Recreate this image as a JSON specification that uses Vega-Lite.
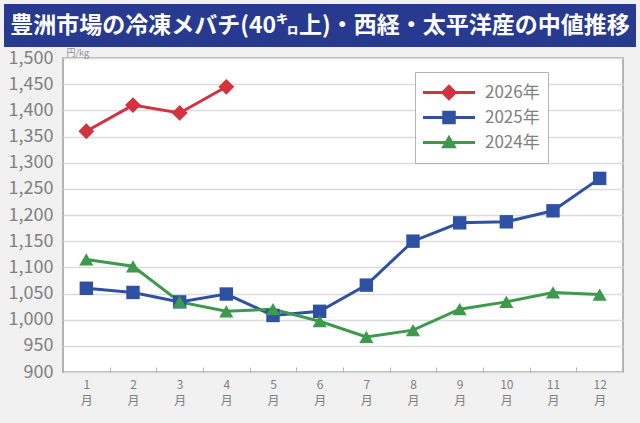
{
  "$schema": "https://vega.github.io/schema/vega-lite/v6.json",
  "background": "#f1f1f1",
  "padding": {"left": 4, "top": 4, "right": 4, "bottom": 17},
  "config": {"font": "Noto Sans CJK JP"},
  "bounds": "flush",
  "spacing": 11,
  "vconcat": [
    {
      "width": 632,
      "height": 43,
      "view": {"fill": "#283a8f", "stroke": null},
      "data": {"values": [{"title": "豊洲市場の冷凍メバチ(40㌔上)・西経・太平洋産の中値推移"}]},
      "mark": {"type": "text", "color": "white", "fontSize": 23, "fontWeight": "bold", "font": "Noto Sans CJK JP"},
      "encoding": {"text": {"field": "title", "type": "nominal"}}
    },
    {
      "bounds": "flush",
      "spacing": 0,
      "hconcat": [
        {
          "width": 59,
          "height": 314,
          "view": {"stroke": null},
          "data": {"values": []},
          "mark": "text"
        },
        {
          "width": 560,
          "height": 314,
          "view": {"fill": "white", "stroke": "#b3b3b3", "strokeWidth": 2},
          "data": {
            "values": [
              {"month": 1, "year": "2026年", "value": 1360},
              {"month": 2, "year": "2026年", "value": 1410},
              {"month": 3, "year": "2026年", "value": 1395},
              {"month": 4, "year": "2026年", "value": 1445},
              {"month": 1, "year": "2025年", "value": 1060},
              {"month": 2, "year": "2025年", "value": 1052},
              {"month": 3, "year": "2025年", "value": 1034},
              {"month": 4, "year": "2025年", "value": 1049},
              {"month": 5, "year": "2025年", "value": 1008},
              {"month": 6, "year": "2025年", "value": 1016},
              {"month": 7, "year": "2025年", "value": 1066},
              {"month": 8, "year": "2025年", "value": 1150},
              {"month": 9, "year": "2025年", "value": 1185},
              {"month": 10, "year": "2025年", "value": 1187},
              {"month": 11, "year": "2025年", "value": 1208},
              {"month": 12, "year": "2025年", "value": 1270},
              {"month": 1, "year": "2024年", "value": 1115},
              {"month": 2, "year": "2024年", "value": 1102},
              {"month": 3, "year": "2024年", "value": 1034},
              {"month": 4, "year": "2024年", "value": 1016},
              {"month": 5, "year": "2024年", "value": 1020},
              {"month": 6, "year": "2024年", "value": 997},
              {"month": 7, "year": "2024年", "value": 967},
              {"month": 8, "year": "2024年", "value": 980},
              {"month": 9, "year": "2024年", "value": 1020},
              {"month": 10, "year": "2024年", "value": 1034},
              {"month": 11, "year": "2024年", "value": 1052},
              {"month": 12, "year": "2024年", "value": 1048}
            ]
          },
          "encoding": {
            "x": {
              "field": "month",
              "type": "ordinal",
              "bandPosition": 0.5,
              "scale": {"type": "band", "paddingInner": 0, "paddingOuter": 0},
              "axis": {
                "title": null,
                "labelAngle": 0,
                "labelExpr": "datum.label ? [datum.label, '月'] : ''",
                "labelLineHeight": 16,
                "labelFontSize": 12,
                "labelColor": "#808080",
                "labelPadding": 12,
                "labelBaseline": "top",
                "tickBand": "extent",
                "ticks": true,
                "tickSize": -5,
                "tickColor": "#b3b3b3",
                "domain": false,
                "grid": false
              }
            },
            "y": {
              "field": "value",
              "type": "quantitative",
              "scale": {"domain": [900, 1500], "nice": false, "zero": false},
              "axis": {
                "values": [900, 950, 1000, 1050, 1100, 1150, 1200, 1250, 1300, 1350, 1400, 1450, 1500],
                "format": ",.0f",
                "title": "円/kg",
                "titleAngle": 0,
                "titleX": 3,
                "titleY": -1,
                "titleAlign": "left",
                "titleBaseline": "bottom",
                "titleFontSize": 9,
                "titleFontWeight": "normal",
                "titleColor": "#909090",
                "labelFontSize": 18,
                "labelColor": "#808080",
                "labelPadding": 10,
                "ticks": false,
                "domain": false,
                "gridColor": "#dcdcdc",
                "gridWidth": 1.5
              }
            }
          },
          "layer": [
            {
              "mark": {"type": "line", "strokeWidth": 3},
              "encoding": {
                "color": {
                  "field": "year",
                  "type": "nominal",
                  "scale": {"range": ["#3d994b", "#2e51a3", "#d2333e"]},
                  "legend": null
                }
              }
            },
            {
              "transform": [{"filter": "datum.year == '2026年'"}],
              "mark": {"type": "point", "shape": "diamond", "filled": true, "size": 250, "opacity": 1, "color": "#d2333e"}
            },
            {
              "transform": [{"filter": "datum.year == '2025年'"}],
              "mark": {"type": "point", "shape": "square", "filled": true, "size": 180, "opacity": 1, "color": "#2e51a3"}
            },
            {
              "transform": [{"filter": "datum.year == '2024年'"}],
              "mark": {"type": "point", "shape": "triangle-up", "filled": true, "size": 200, "opacity": 1, "color": "#3d994b"}
            },
            {
              "mark": {"type": "point", "filled": true, "size": 0, "opacity": 1},
              "encoding": {
                "fill": {
                  "field": "year",
                  "type": "nominal",
                  "scale": {"domain": ["2026年", "2025年", "2024年"], "range": ["#d2333e", "#2e51a3", "#3d994b"]},
                  "legend": {
                    "title": null,
                    "orient": "none",
                    "legendX": 411,
                    "legendY": 68,
                    "direction": "vertical",
                    "padding": 8,
                    "strokeColor": "#b3b3b3",
                    "fillColor": "white",
                    "clipHeight": 25,
                    "rowPadding": 0,
                    "symbolSize": 2704,
                    "symbolStrokeWidth": 0,
                    "symbolOffset": 0,
                    "labelOffset": 10,
                    "labelFontSize": 17,
                    "labelColor": "#808080",
                    "labelFont": "Noto Sans CJK JP"
                  }
                },
                "shape": {
                  "field": "year",
                  "type": "nominal",
                  "scale": {
                    "domain": ["2026年", "2025年", "2024年"],
                    "range": [
                      "M-1,-0.055H1V0.055H-1Z M0,-0.32L0.32,0L0,0.32L-0.32,0Z",
                      "M-1,-0.055H1V0.055H-1Z M-0.26,-0.26H0.26V0.26H-0.26Z",
                      "M-1,-0.055H1V0.055H-1Z M0,-0.3L0.3,0.22L-0.3,0.22Z"
                    ]
                  },
                  "legend": {
                    "title": null,
                    "orient": "none",
                    "legendX": 411,
                    "legendY": 68,
                    "direction": "vertical",
                    "padding": 8,
                    "strokeColor": "#b3b3b3",
                    "fillColor": "white",
                    "clipHeight": 25,
                    "rowPadding": 0,
                    "symbolSize": 2704,
                    "symbolStrokeWidth": 0,
                    "symbolOffset": 0,
                    "labelOffset": 10,
                    "labelFontSize": 17,
                    "labelColor": "#808080",
                    "labelFont": "Noto Sans CJK JP"
                  }
                }
              }
            }
          ]
        }
      ]
    }
  ]
}
